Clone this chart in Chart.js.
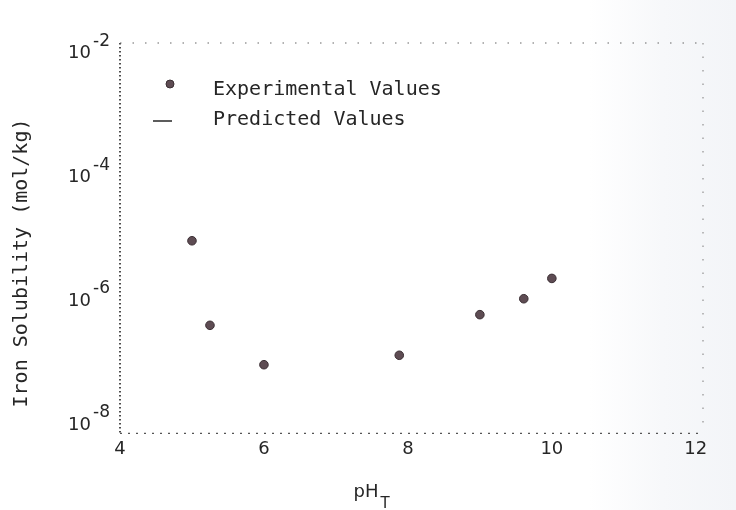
<!DOCTYPE html>
<html>
<head>
<meta charset="utf-8">
<script src="https://cdn.jsdelivr.net/npm/chart.js@4/dist/chart.umd.min.js"></script>
<style>
  html, body { margin: 0; padding: 0; }
  body {
    width: 736px; height: 510px; overflow: hidden;
    background: linear-gradient(90deg, #ffffff 0%, #ffffff 80%, #f7f8fa 90%, #f3f5f8 100%);
  }
  #c { display: block; }
</style>
</head>
<body>
<canvas id="c" width="736" height="510"></canvas>
<script>
// Measured iron solubility versus pH (T)
const phValues       = [5.0, 5.25, 6.0, 7.88, 9.0, 9.61, 10.0];
const ironSolubility = [8.1e-6, 3.5e-7, 8.1e-8, 1.15e-7, 5.2e-7, 9.4e-7, 2.0e-6];

// Model curve (no points plotted in this figure)
const predictedPh         = [];
const predictedSolubility = [];

const seriesNames = ['Experimental Values', 'Predicted Values'];
const xTickValues = [4, 6, 8, 10, 12];
const yTickValues = [1e-8, 1e-6, 1e-4, 1e-2];
const xTitleMain = 'pH';
const xTitleSub  = 'T';
const yTitle     = 'Iron Solubility (mol/kg)';

const INK = '#262626';
const DOT_FILL = '#5e4c53';
const DOT_EDGE = '#3a2e33';
const MONO = '"DejaVu Sans Mono", monospace';
const SANS = '"DejaVu Sans", sans-serif';

const toPoints = (xs, ys) => xs.map((x, i) => ({ x, y: ys[i] }));

// Dotted plot frame, drawn along the chart area edges
const dottedFrame = {
  id: 'dottedFrame',
  beforeDatasetsDraw(chart) {
    const { ctx, chartArea: a } = chart;
    const edge = (x1, y1, x2, y2, dash, color, width) => {
      ctx.save();
      ctx.setLineDash(dash);
      ctx.strokeStyle = color;
      ctx.lineWidth = width;
      ctx.beginPath();
      ctx.moveTo(x1, y1);
      ctx.lineTo(x2, y2);
      ctx.stroke();
      ctx.restore();
    };
    edge(a.left, a.top, a.left, a.bottom, [1.5, 2.5], '#2e2e2e', 1.7);
    edge(a.left, a.bottom, a.right, a.bottom, [2, 6], '#555', 1.4);
    edge(a.left, a.top, a.right, a.top, [1.5, 11], '#666', 1.2);
    edge(a.right, a.top, a.right, a.bottom, [1.5, 12], '#888', 1.1);
  }
};

// Plotter-style labels: 10^n ticks, axis titles and the legend
const figureText = {
  id: 'figureText',
  afterDraw(chart) {
    const { ctx, scales } = chart;
    const y = scales.y;
    ctx.save();
    ctx.fillStyle = INK;

    // y tick labels as 10 with a raised exponent
    y.ticks.forEach(t => {
      const py = y.getPixelForValue(t.value);
      const exp = Math.round(Math.log10(t.value));
      const expText = '-' + Math.abs(exp);
      ctx.textBaseline = 'middle';
      ctx.font = '18px ' + SANS;
      ctx.textAlign = 'right';
      ctx.fillText('10', 91, py + 4);
      ctx.font = '17px ' + SANS;
      ctx.textAlign = 'left';
      ctx.fillText(expText, 93, py - 8);
    });

    // x title with subscript
    ctx.textAlign = 'left';
    ctx.textBaseline = 'alphabetic';
    ctx.font = '18px ' + SANS;
    const wMain = ctx.measureText(xTitleMain).width;
    const xStart = 366 - wMain / 2;
    ctx.fillText(xTitleMain, xStart, 497);
    ctx.font = '15px ' + SANS;
    ctx.fillText(xTitleSub, xStart + wMain + 2, 508);

    // y title, rotated
    ctx.save();
    ctx.translate(27, 263);
    ctx.rotate(-Math.PI / 2);
    ctx.font = '20px ' + MONO;
    ctx.textAlign = 'center';
    ctx.fillText(yTitle, 0, 0);
    ctx.restore();

    // legend
    ctx.font = '20px ' + MONO;
    ctx.textAlign = 'left';
    ctx.fillText(chart.data.datasets[0].label, 213, 95);
    ctx.fillText(chart.data.datasets[1].label, 213, 125);
    ctx.beginPath();
    ctx.arc(170, 84, 4, 0, Math.PI * 2);
    ctx.fillStyle = DOT_FILL;
    ctx.fill();
    ctx.lineWidth = 1;
    ctx.strokeStyle = DOT_EDGE;
    ctx.stroke();
    ctx.beginPath();
    ctx.moveTo(153, 121);
    ctx.lineTo(172, 121);
    ctx.lineWidth = 1.5;
    ctx.strokeStyle = INK;
    ctx.stroke();
    ctx.restore();
  }
};

new Chart(document.getElementById('c'), {
  type: 'scatter',
  data: {
    datasets: [
      {
        label: seriesNames[0],
        data: toPoints(phValues, ironSolubility),
        pointRadius: 4.3,
        pointBackgroundColor: DOT_FILL,
        pointBorderColor: DOT_EDGE,
        pointBorderWidth: 1,
        showLine: false
      },
      {
        label: seriesNames[1],
        type: 'line',
        data: toPoints(predictedPh, predictedSolubility),
        borderColor: INK,
        borderWidth: 1.5,
        pointRadius: 0,
        fill: false
      }
    ]
  },
  options: {
    responsive: false,
    devicePixelRatio: 1,
    animation: false,
    events: [],
    layout: { padding: { left: 120, right: 33, top: 43, bottom: 45 } },
    plugins: { legend: { display: false }, tooltip: { enabled: false } },
    scales: {
      x: {
        type: 'linear',
        position: 'bottom',
        min: 4, max: 12.1,
        afterBuildTicks: s => { s.ticks = xTickValues.map(v => ({ value: v })); },
        ticks: {
          color: INK,
          font: { family: SANS, size: 18 },
          padding: 5,
          callback: v => String(v)
        },
        grid: { display: false, drawTicks: false },
        border: { display: false }
      },
      y: {
        type: 'logarithmic',
        position: 'left',
        min: Math.pow(10, -8.2),
        max: Math.pow(10, -1.9),
        afterBuildTicks: s => { s.ticks = yTickValues.map(v => ({ value: v })); },
        ticks: { display: false },
        grid: { display: false, drawTicks: false },
        border: { display: false }
      }
    }
  },
  plugins: [dottedFrame, figureText]
});
</script>
</body>
</html>
